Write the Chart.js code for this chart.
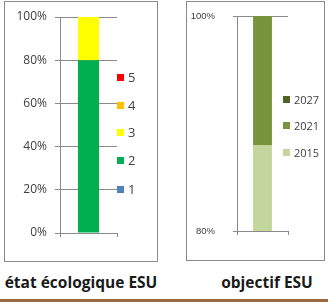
<!DOCTYPE html>
<html>
<head>
<meta charset="utf-8">
<script src="https://cdn.jsdelivr.net/npm/chart.js@4/dist/chart.umd.min.js"></script>
<style>
  body { margin: 0; background: #fff; width: 328px; height: 303px; overflow: hidden; position: relative; font-family: "Open Sans", sans-serif; }
  .box { position: absolute; border: 1px solid #8a8a8a; box-sizing: border-box; background: #fff; }
  .box canvas { position: absolute; left: 0; top: 0; }
  .legend { position: absolute; color: #404040; }
  .legend div { position: absolute; white-space: nowrap; display: flex; align-items: center; }
  .legend span.sw { display: inline-block; width: 7px; height: 7px; margin-right: 4px; }
  .title { position: absolute; font-weight: bold; font-size: 15.5px; color: #1a1a1a; white-space: nowrap; text-align: center; }
  .rule { position: absolute; left: 0; top: 299px; width: 328px; height: 3px; background: #9c6b43; }
</style>
</head>
<body>
<div class="box" id="boxA" style="left:4px; top:1px; width:154px; height:261px;">
  <canvas id="chartA"></canvas>
  <div class="legend" id="legendA" style="font-size:13px;"></div>
</div>
<div class="box" id="boxB" style="left:186px; top:1px; width:139px; height:260px;">
  <canvas id="chartB"></canvas>
  <div class="legend" id="legendB" style="font-size:11px;"></div>
</div>
<div class="title" style="left:0; top:271px; width:162px;">état écologique ESU</div>
<div class="title" style="left:208px; top:271px; width:118px;">objectif ESU</div>
<div class="rule"></div>

<script>
// --- état écologique ESU ---
const classLabels = ['1', '2', '3', '4', '5'];
const classValues = [0, 80, 20, 0, 0];
const classColors = ['#4f81bd', '#00b050', '#ffff00', '#ffc000', '#ff0000'];
const classTicks = [0, 20, 40, 60, 80, 100];

// --- objectif ESU ---
const yearLabels = ['2015', '2021', '2027'];
const yearValues = [88, 12, 0];
const yearColors = ['#c3d69b', '#77933c', '#4f6228'];
const yearTicks = [80, 100];

const gridColor = '#8a8a8a';
const textColor = '#404040';

function makeChart(id, w, h, labels, values, colors, ticks, opts) {
    const canvas = document.getElementById(id);
    canvas.width = w;
    canvas.height = h;
    canvas.style.width = w + 'px';
    canvas.style.height = h + 'px';
    return new Chart(canvas, {
        type: 'bar',
        data: {
            labels: [''],
            datasets: labels.map((label, i) => ({
                label: label,
                data: [values[i]],
                backgroundColor: colors[i],
                borderWidth: 0,
                barPercentage: 0.37,
                categoryPercentage: 1,
            })),
        },
        options: {
            responsive: false,
            animation: false,
            devicePixelRatio: 1,
            layout: {padding: {top: opts.top, right: opts.right, left: 0, bottom: 0}},
            plugins: {legend: {display: false}, tooltip: {enabled: false}},
            scales: {
                x: {
                    stacked: true,
                    grid: {display: true, drawOnChartArea: false, color: gridColor, tickLength: 4, offset: true},
                    border: {color: gridColor},
                    ticks: {display: false},
                    afterFit: scale => { scale.height = opts.bottom; },
                },
                y: {
                    stacked: true,
                    min: ticks[0],
                    max: ticks[ticks.length - 1],
                    afterBuildTicks: scale => { scale.ticks = ticks.map(v => ({value: v})); },
                    grid: {color: gridColor, tickLength: opts.tickLength},
                    border: {color: gridColor},
                    ticks: {
                        color: textColor,
                        padding: opts.labelPad,
                        font: {family: opts.font, size: opts.fontSize},
                        callback: v => v + '%',
                    },
                    afterFit: scale => {
                        scale.width = opts.axisX;
                        // label padding should not push the plot down
                        scale.paddingTop = 0;
                        scale.paddingBottom = 0;
                    },
                },
            },
        },
    });
}

function makeLegend(id, labels, colors, left, tops) {
    const el = document.getElementById(id);
    for (let i = labels.length - 1, k = 0; i >= 0; i--, k++) {
        const item = document.createElement('div');
        item.style.left = left + 'px';
        item.style.top = tops[k] + 'px';
        item.innerHTML = '<span class="sw" style="background:' + colors[i] + '"></span>' + labels[i];
        el.appendChild(item);
    }
}

makeChart('chartA', 152, 259, classLabels, classValues, classColors, classTicks,
    {top: 15, right: 40, bottom: 28, axisX: 55, tickLength: 5, labelPad: 8, font: 'Open Sans', fontSize: 12});
makeChart('chartB', 137, 258, yearLabels, yearValues, yearColors, yearTicks,
    {top: 14, right: 36, bottom: 29, axisX: 50, tickLength: 4, labelPad: 18, font: '"Liberation Sans Narrow", "Liberation Sans"', fontSize: 9.5});

makeLegend('legendA', classLabels, classColors, 112, [66, 94, 121, 149, 178]);
makeLegend('legendB', yearLabels, yearColors, 96, [90, 116, 143]);
</script>
</body>
</html>
